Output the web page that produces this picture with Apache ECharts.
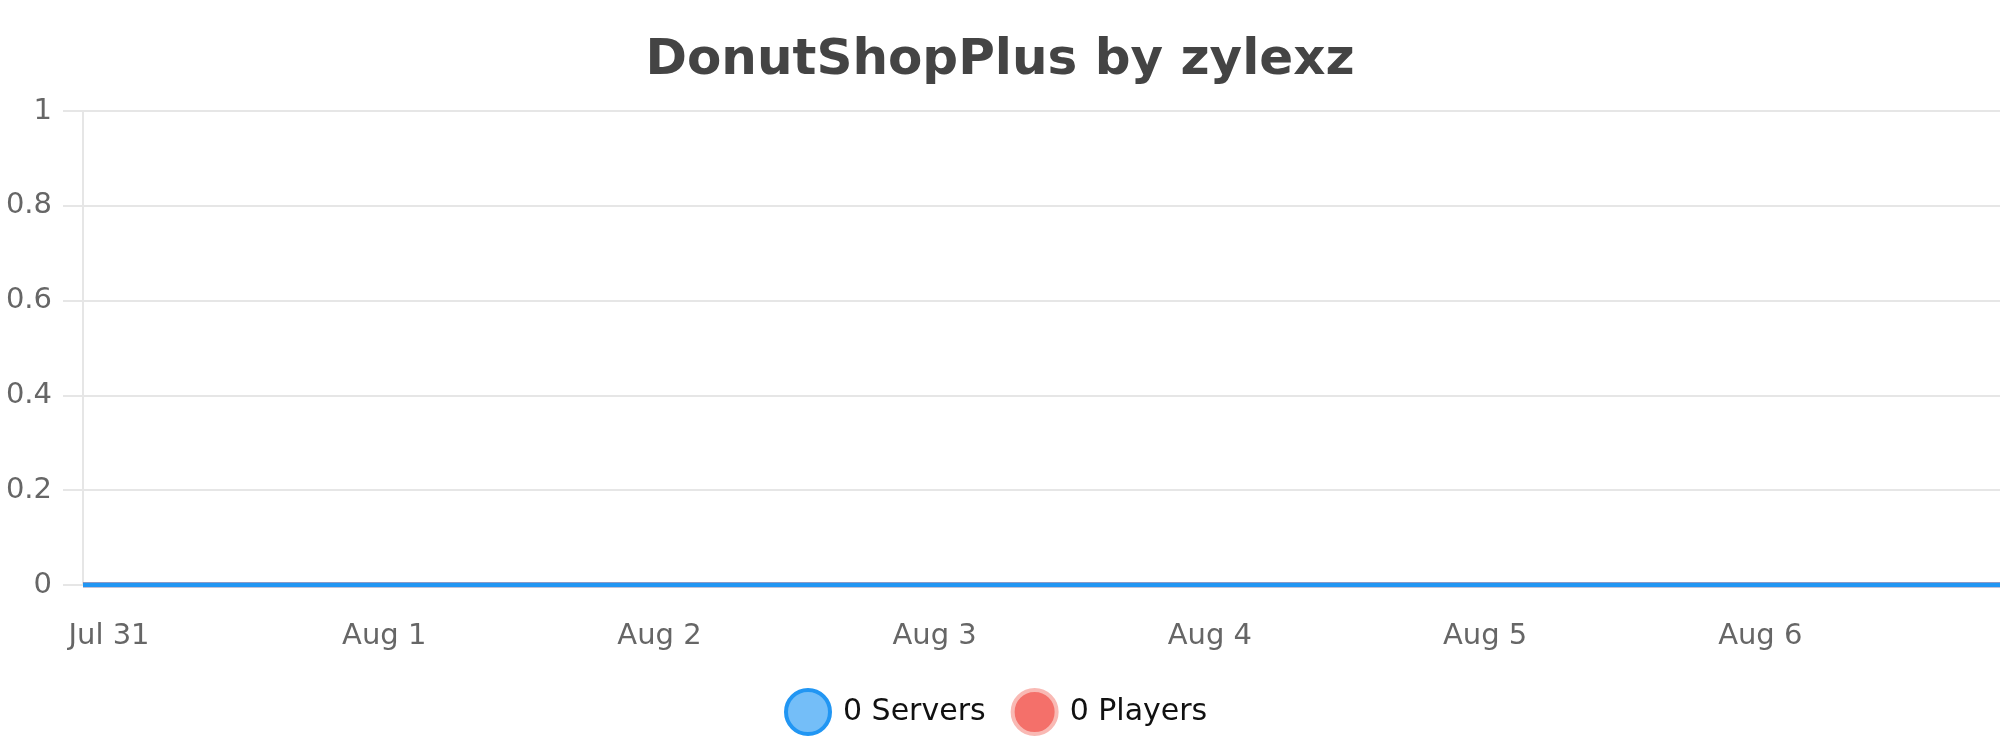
<!DOCTYPE html>
<html lang="en">
<head>
    <meta charset="UTF-8">
    <title>DonutShopPlus by zylexz</title>
    <script src="https://cdn.jsdelivr.net/npm/echarts@6/dist/echarts.min.js"></script>
    <style>
        html, body { margin: 0; padding: 0; background: #fff; }
        #main { width: 2000px; height: 750px; }
    </style>
</head>
<body>
<div id="main"></div>
<script type="text/javascript">
    // day labels on the x axis (day 0 = Jul 31)
    var dayLabels = ['Jul 31', 'Aug 1', 'Aug 2', 'Aug 3', 'Aug 4', 'Aug 5', 'Aug 6'];
    var labelDays = [0, 1, 2, 3, 4, 5, 6];
    // sample times in days, window runs from Jul 30 late evening to Aug 6 evening
    var sampleDays = [-0.0945, 0, 0.5, 1, 1.5, 2, 2.5, 3, 3.5, 4, 4.5, 5, 5.5, 6, 6.5, 6.871];
    var servers = [0, 0, 0, 0, 0, 0, 0, 0, 0, 0, 0, 0, 0, 0, 0, 0];
    var players = [0, 0, 0, 0, 0, 0, 0, 0, 0, 0, 0, 0, 0, 0, 0, 0];
    var yTicks = [0, 0.2, 0.4, 0.6, 0.8, 1];

    function pairs(xs, ys) {
        var out = [];
        for (var i = 0; i < xs.length; i++) out.push([xs[i], ys[i]]);
        return out;
    }

    var myChart = echarts.init(document.getElementById('main'));
    var font = 'DejaVu Sans';
    var option = {
        animation: false,
        textStyle: { fontFamily: font },
        title: {
            text: 'DonutShopPlus by zylexz',
            left: 'center',
            top: 31,
            textStyle: { fontFamily: font, fontSize: 50, fontWeight: 'bold', color: '#444' }
        },
        legend: {
            bottom: 9,
            left: 779,
            icon: 'circle',
            itemWidth: 44,
            itemHeight: 44,
            itemGap: 25,
            textStyle: { fontFamily: font, fontSize: 30, color: '#111', padding: [0, 0, 0, 8] },
            data: [
                { name: '0 Servers', itemStyle: { color: '#74bef8', borderColor: '#2196f3', borderWidth: 4 } },
                { name: '0 Players', itemStyle: { color: '#f4706a', borderColor: '#f9b9b4', borderWidth: 4 } }
            ]
        },
        grid: { left: 83, right: 0, top: 111, bottom: 165, containLabel: false },
        xAxis: {
            type: 'value',
            min: sampleDays[0],
            max: sampleDays[sampleDays.length - 1],
            axisLine: { show: false },
            axisTick: { show: false },
            splitLine: { show: false },
            axisLabel: {
                customValues: labelDays,
                margin: 37,
                fontSize: 29,
                color: '#666',
                formatter: function (v) { return dayLabels[Math.round(v)] || ''; }
            }
        },
        yAxis: {
            type: 'value',
            min: yTicks[0],
            max: yTicks[yTicks.length - 1],
            interval: 0.2,
            axisLine: { show: true, onZero: false, lineStyle: { color: '#e6e6e6', width: 2 } },
            axisTick: { show: true, length: 20, lineStyle: { color: '#e6e6e6', width: 2 } },
            splitLine: { lineStyle: { color: '#e6e6e6', width: 2 } },
            axisLabel: { margin: 31, fontSize: 29, color: '#666' }
        },
        series: [
            {
                name: '0 Players',
                type: 'line',
                data: pairs(sampleDays, players),
                showSymbol: false,
                lineStyle: { color: '#f44336', width: 5 },
                itemStyle: { color: '#f44336' }
            },
            {
                name: '0 Servers',
                type: 'line',
                data: pairs(sampleDays, servers),
                showSymbol: false,
                lineStyle: { color: '#2196f3', width: 5 },
                itemStyle: { color: '#2196f3' }
            }
        ]
    };
    myChart.setOption(option);
</script>
</body>
</html>
